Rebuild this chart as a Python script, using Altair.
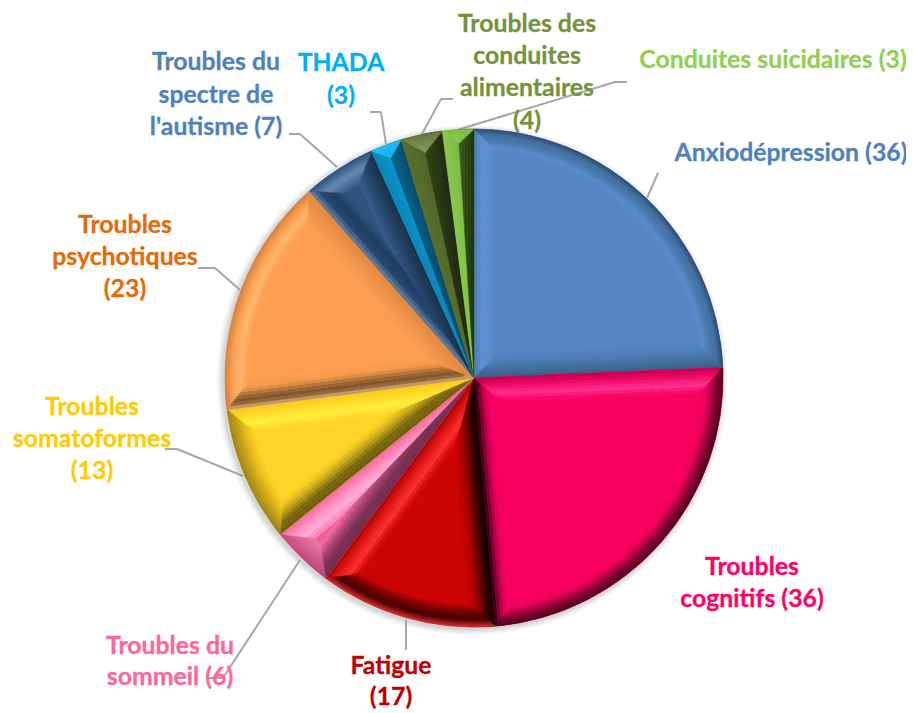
import altair as alt
import pandas as pd

categories = ["Anxiodépression", "Troubles cognitifs", "Fatigue", "Troubles du sommeil",
              "Troubles somatoformes", "Troubles psychotiques",
              "Troubles du spectre de l'autisme", "THADA",
              "Troubles des conduites alimentaires", "Conduites suicidaires"]
values = [36, 36, 17, 6, 13, 23, 7, 3, 4, 3]
base_colors = ["#5585c5", "#f80060", "#cc0404", "#f06090", "#ffd428",
               "#fd9e50", "#2f5480", "#0f90c8", "#4f6228", "#72ac38"]
start_side = [["#4a7ab8", "#5f92d4", "#5b8ccd", "#5585c5"],
              ["#c0004a", "#f00a68", "#ff3390", "#f80060"],
              ["#000000", "#400000", "#a00000", "#cc0404"],
              ["#703050", "#7a3052", "#b04878", "#ff70a8"],
              ["#6b5a10", "#7a6812", "#c8a81c", "#ffd428"],
              ["#d8b080", "#7a5028", "#a06a38", "#f0984c", "#fd9e50"],
              ["#6a86a4", "#24466e", "#1f3d60", "#2f5480"],
              ["#0a86b8", "#10a0d8"],
              ["#5a702e", "#4f6228"],
              ["#8cc850", "#74b03c"]]
end_side = [["#3a5f85", "#44709f", "#4f7eb5", "#5585c5"],
            ["#200010", "#a0003c", "#f00060", "#f80060", "#f80060"],
            ["#b00000", "#e01818", "#ff3333", "#cc0404"],
            ["#ff6699", "#ff90c0", "#ffb0e0", "#ff80b0"],
            ["#f8c820", "#ffdc28", "#fff040", "#ffd428"],
            ["#e08840", "#e89048", "#f59850", "#fd9e50"],
            ["#1a3048", "#254468", "#3a6090"],
            ["#0a4a68", "#0a78a8"],
            ["#1e2810", "#3a4a1c"],
            ["#1e3010", "#4c7a24"]]
rim_side = [["#2b4a6c", "#44709f", "#4a79ae", "#5a8ccb", "#5585c5"],
            ["#50001f", "#70002a", "#b00046", "#f00060", "#f80060"],
            ["#e03030", "#400000", "#700000", "#cc0404"],
            ["#c04878", "#d86090", "#e878a8"],
            ["#9a8020", "#c09c18", "#e8bc18", "#ffd428"],
            ["#d08040", "#fba050", "#ffb870", "#fd9e50"],
            ["#2f5480", "#6a8cb5", "#3a6090"],
            ["#20c0ff", "#10b0f0"],
            ["#6a7a40", "#9aa878"],
            ["#80c040", "#98d858"]]

label_lines = [["Anxiodépression (36)"], ["Troubles", "cognitifs (36)"], ["Fatigue", "(17)"],
               ["Troubles du", "sommeil (6)"], ["Troubles", "somatoformes", "(13)"],
               ["Troubles", "psychotiques", "(23)"],
               ["Troubles du", "spectre de", "l'autisme (7)"], ["THADA", "(3)"],
               ["Troubles des", "conduites", "alimentaires", "(4)"],
               ["Conduites suicidaires (3)"]]
label_colors = ["#4f81bd", "#ff0066", "#c00000", "#ff6699", "#ffcc00",
                "#e36c0a", "#4f81bd", "#00b0f0", "#76923c", "#92d050"]


def lerp(stops, t):
    t = max(0.0, min(1.0, t)) * (len(stops) - 1)
    i = min(int(t), len(stops) - 2)
    f = t - i
    a, b = stops[i], stops[i + 1]
    out = "#"
    for p in (1, 3, 5):
        ca, cb = int(a[p:p + 2], 16), int(b[p:p + 2], 16)
        out += f"{round(ca + (cb - ca) * f):02x}"
    return out


total = sum(values)
to_value = total / 6.283185
R = 249.0
D = 23.0     # rim depth
W = 25.0     # width of the side bevels
J = 8
K = 14
rings = [0.0]
r = 10.0
while r < R:
    rings.append(r)
    r *= 1.05
rings.append(R)
rows = []


def add(a, b, r0, r1, c):
    if b > a:
        rows.append({"n": len(rows), "a": a, "b": b, "r0": r0, "r1": r1, "c": c})


cum = 0
for v, base, ss, es, rs in zip(values, base_colors, start_side, end_side, rim_side):
    s, e = cum, cum + v
    mid = (s + e) / 2
    add(s, e, 0, R, base)
    for r0, r1 in zip(rings, rings[1:]):
        rm = max((r0 + r1) / 2, 1.0)
        for j in range(J):
            o0 = W * j / J / rm * to_value
            o1 = W * (j + 1) / J / rm * to_value
            if s + o0 >= mid:
                break
            add(s + o0, min(s + o1, mid), r0, r1, lerp(ss, (j + 0.5) / J))
            add(max(e - o1, mid), e - o0, r0, r1, lerp(es, (j + 0.5) / J))
    for k in range(K):
        d0, d1 = D * k / K, D * (k + 1) / K
        rm = R - (d0 + d1) / 2
        o = W * ((d0 + d1) / 2) / D / rm * to_value
        if s + o < mid:
            add(s + o, e - o, R - d1, R - d0, lerp(rs, (k + 0.5) / K))
    cum = e

df = pd.DataFrame(rows)
cx, cy = 466, 370
theta_scale = alt.Scale(domain=[0, total], range=[0, 6.283185])
radius_scale = alt.Scale(domain=[0, 300], range=[0, 300])

shadow_df = pd.DataFrame({"a": [0, 0, 0, 0], "b": [total] * 4, "r": [250, 251.5, 253, 255]})
shadow = alt.Chart(shadow_df).mark_arc(fill="#000000", opacity=0.045).encode(
    x=alt.value(cx - 2), y=alt.value(cy + 2),
    theta=alt.Theta("a:Q", scale=theta_scale), theta2="b:Q",
    radius=alt.Radius("r:Q", scale=radius_scale),
)

pie = alt.Chart(df).mark_arc(strokeWidth=0.4).encode(
    x=alt.value(cx), y=alt.value(cy),
    theta=alt.Theta("a:Q", scale=theta_scale), theta2="b:Q",
    radius=alt.Radius("r1:Q", scale=radius_scale), radius2="r0:Q",
    fill=alt.Fill("c:N", scale=None),
    stroke=alt.Stroke("c:N", scale=None),
    order=alt.Order("n:Q"),
)

leaders = [
    [(658, 173), (647, 198)],
    [(406, 620), (406, 650)],
    [(300, 560), (223, 678), (207, 678)],
    [(165, 449), (177, 449), (243, 476)],
    [(198, 268), (215, 268), (240, 290)],
    [(289, 134), (300, 134), (337, 167)],
    [(370, 112), (381, 112), (386, 144)],
    [(453, 99), (441, 99), (422, 134)],
    [(627, 82), (615, 82), (457, 130)],
]
layers = [shadow]
for path in leaders:
    for (x0, y0), (x1, y1) in zip(path, path[1:]):
        layers.append(alt.Chart(alt.Data(values=[{}])).mark_rule(color="#a6a6a6", strokeWidth=2).encode(
            x=alt.value(x0 - 8), x2=alt.value(x1 - 8), y=alt.value(y0 - 8), y2=alt.value(y1 - 8)))
layers.append(pie)

label_pos = [
    [(791, 154)],
    [(752, 568), (752, 600)],
    [(391, 667), (391, 698)],
    [(170, 647), (170, 678)],
    [(92, 408), (92, 440), (92, 472)],
    [(125, 226), (125, 258), (125, 290)],
    [(216, 63), (216, 96), (216, 128)],
    [(341, 64), (341, 97)],
    [(527, 25), (527, 57), (527, 89), (527, 122)],
    [(773, 61)],
]
for lines, col, pos in zip(label_lines, label_colors, label_pos):
    for line, (x, y) in zip(lines, pos):
        layers.append(alt.Chart(alt.Data(values=[{}])).mark_text(
            font="Lato", fontWeight="bold", fontSize=24.8, color=col, stroke=col, strokeWidth=0.3,
            align="center", baseline="middle").encode(
            x=alt.value(x - 8), y=alt.value(y - 8), text=alt.value(line)))

chart = alt.layer(*layers).properties(
    width=898, height=704, padding=0, autosize=alt.AutoSizeParams(type="none"),
    background="#ffffff",
).configure_view(stroke=None)

chart.save("out.html", embed_options={"renderer": "svg", "actions": False})
